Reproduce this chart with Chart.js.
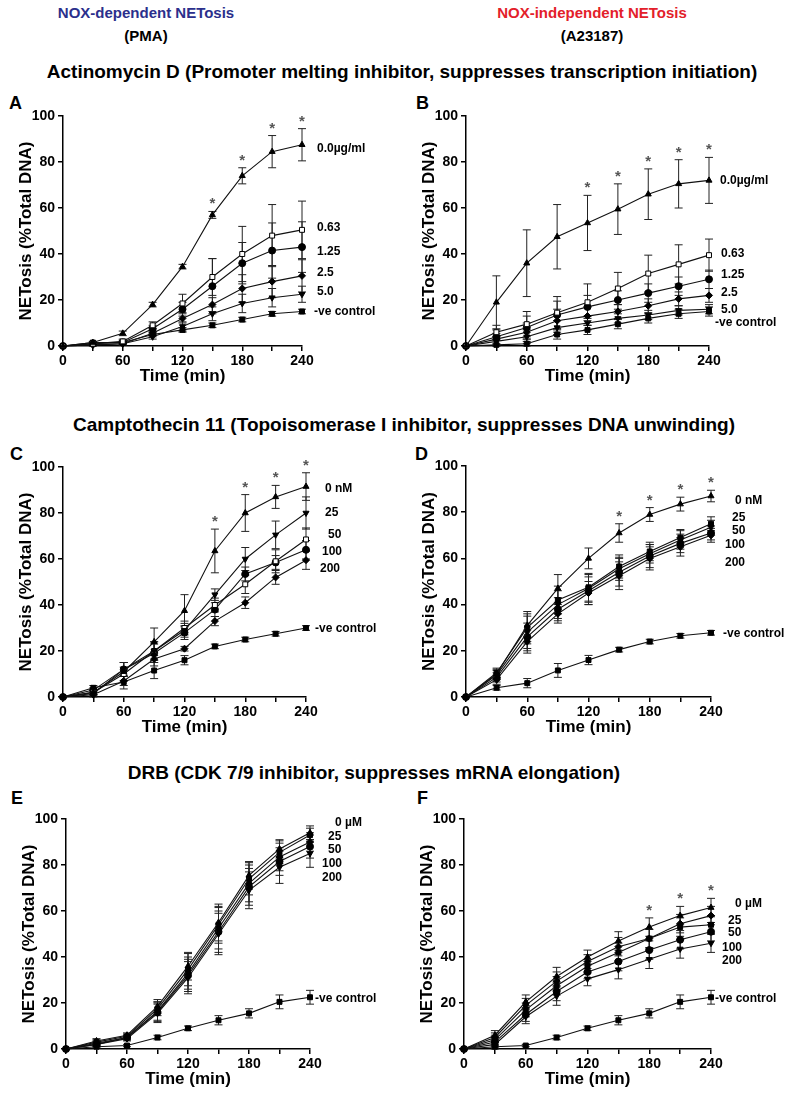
<!DOCTYPE html>
<html>
<head>
<meta charset="utf-8">
<script src="https://cdn.jsdelivr.net/npm/chart.js@4.4.0/dist/chart.umd.min.js"></script>
<style>
    body { margin: 0; background: #fff; font-family: "Liberation Sans", Arial, sans-serif; }
    #page { position: relative; width: 787px; height: 1096px; overflow: hidden; background: #fff; }
    .txt { position: absolute; font-weight: bold; white-space: nowrap; transform: translateX(-50%); }
    .letter { position: absolute; font-weight: bold; font-size: 18px; }
    canvas { position: absolute; }
</style>
</head>
<body>
<div id="page">
    <div class="txt" style="left:146px;top:4px;font-size:15px;color:#2b2f8c">NOX-dependent NETosis</div>
    <div class="txt" style="left:146px;top:27px;font-size:15px">(PMA)</div>
    <div class="txt" style="left:592px;top:4px;font-size:15px;color:#e3202a">NOX-independent NETosis</div>
    <div class="txt" style="left:592px;top:27px;font-size:15px">(A23187)</div>
    <div class="txt" style="left:402px;top:61px;font-size:19px">Actinomycin D (Promoter melting inhibitor, suppresses transcription initiation)</div>
    <div class="txt" style="left:404px;top:414px;font-size:19px">Camptothecin 11 (Topoisomerase I inhibitor, suppresses DNA unwinding)</div>
    <div class="txt" style="left:374px;top:762px;font-size:19px">DRB (CDK 7/9 inhibitor, suppresses mRNA elongation)</div>

    <div class="letter" style="left:9px;top:93px">A</div>
    <div class="letter" style="left:416px;top:93px">B</div>
    <div class="letter" style="left:10px;top:444px">C</div>
    <div class="letter" style="left:415px;top:444px">D</div>
    <div class="letter" style="left:11px;top:788px">E</div>
    <div class="letter" style="left:417px;top:788px">F</div>

    <canvas id="chart-a"></canvas>
    <canvas id="chart-b"></canvas>
    <canvas id="chart-c"></canvas>
    <canvas id="chart-d"></canvas>
    <canvas id="chart-e"></canvas>
    <canvas id="chart-f"></canvas>
</div>

<script>
// ===== DADOS =====
const tempos = [0, 30, 60, 90, 120, 150, 180, 210, 240];

// A - Actinomycin D / PMA
const aRotulos = ['0.0\u00b5g/ml', '0.63', '1.25', '2.5', '5.0', '-ve control'];
const aRotuloY = [86, 51.5, 41, 32, 23.5, 15];
const aDose0 = [0, 1.5, 5.5, 18, 34.5, 57, 74, 84.5, 87.5];
const aDose063 = [0, 1, 2, 9, 18.5, 30, 40, 48, 50.5];
const aDose125 = [0, 1, 1.5, 7.5, 16, 26, 36, 41.5, 43];
const aDose25 = [0, 0.5, 1, 5.5, 12, 18, 25, 28, 30.5];
const aDose5 = [0, 0.5, 1, 4, 8.5, 14, 18.5, 21, 22.5];
const aControle = [0, 1.5, 1.5, 5, 7, 9, 11.5, 14, 15];
const aErro0 = [0, 0.5, 1, 1, 1, 1.5, 3.5, 7, 7];
const aErro063 = [0, 0.5, 1, 1.5, 4, 8, 12, 13.5, 12.5];
const aErro125 = [0, 0.5, 1, 1.5, 3, 12, 9, 12, 11];
const aErro25 = [0, 0.5, 0.5, 1, 2, 3, 6, 7, 7];
const aErro5 = [0, 0.5, 0.5, 1, 2, 3, 4, 4, 3.5];
const aErroCtrl = [0, 0.5, 0.5, 1, 1, 1, 1, 1, 1];
const aAsteriscos = [150, 180, 210, 240];

// B - Actinomycin D / A23187
const bRotulos = ['0.0\u00b5g/ml', '0.63', '1.25', '2.5', '5.0', '-ve control'];
const bRotuloY = [72, 40, 31, 23, 16, 10];
const bDose0 = [0, 19, 36, 47.5, 53.5, 59.5, 66, 70.5, 72];
const bDose063 = [0, 6, 9.5, 14.5, 19, 25, 31.5, 35.5, 39.5];
const bDose125 = [0, 4, 8, 13.5, 17, 20, 23, 26, 29];
const bDose25 = [0, 3, 6, 11, 13, 15, 17.5, 20.5, 22];
const bDose5 = [0, 2, 4, 8, 10, 12, 13.5, 15.5, 16];
const bControle = [0, 0.5, 1, 5, 7, 9.5, 12, 14, 15];
const bErro0 = [0, 11.5, 14.5, 14, 12, 11, 11, 10.5, 10];
const bErro063 = [0, 3, 5.5, 7, 8, 7, 8, 8.5, 7];
const bErro125 = [0, 3, 5, 6, 5, 4, 4, 4, 4];
const bErro25 = [0, 2.5, 4, 5, 4, 3, 3, 3, 3];
const bErro5 = [0, 2, 3, 3, 3, 2, 2, 2, 2];
const bErroCtrl = [0, 2, 2, 2, 2, 2, 2, 2, 2];
const bAsteriscos = [120, 150, 180, 210, 240];

// C - Camptothecin 11 / PMA
const cRotulos = ['0 nM', '25', '50', '100', '200', '-ve control'];
const cRotuloY = [90.5, 80, 70.5, 63, 56, 29.5];
const cDose0 = [0, 2, 11, 24, 37.5, 63.5, 80, 87, 91.5];
const cDose25 = [0, 1.5, 12, 20, 29, 44.5, 60, 70.5, 80];
const cDose50 = [0, 2, 10, 20, 30, 40, 49, 59, 68.5];
const cDose100 = [0, 3, 12, 19, 28, 38, 53.5, 58.5, 64];
const cDose200 = [0, 1, 7, 16.5, 21, 33, 41, 52, 59.5];
const cControle = [0, 4, 6.5, 11.5, 16, 22, 25, 27.5, 30];
const cErro0 = [0, 1, 4, 6, 7, 9.5, 8, 5, 6];
const cErro25 = [0, 1, 3, 4, 3, 2.5, 5, 6, 7];
const cErro50 = [0, 1, 3, 4, 3, 3, 4, 5, 5];
const cErro100 = [0, 1, 3, 4, 3, 3, 3, 3, 4];
const cErro200 = [0, 1, 2, 3, 1, 2, 2.5, 3, 4];
const cErroCtrl = [0, 1, 3, 3.5, 2, 1, 1, 1, 1];
const cAsteriscos = [150, 180, 210, 240];

// D - Camptothecin 11 / A23187
const dRotulos = ['0 nM', '25', '50', '100', '200', '-ve control'];
const dRotuloY = [85, 77.5, 72, 66, 58, 27.5];
const dDose0 = [0, 10, 31, 47, 60, 71, 79, 83.5, 87];
const dDose25 = [0, 10.5, 30, 42, 47.5, 56.5, 63, 69, 75];
const dDose50 = [0, 9.5, 28, 40, 47, 55.5, 62, 68, 73.5];
const dDose100 = [0, 8.5, 26, 38, 46, 54, 61, 66.5, 71];
const dDose200 = [0, 7.5, 24, 36, 45, 52.5, 60, 65, 70];
const dControle = [0, 4, 6, 11.5, 16, 20.5, 24, 26.5, 27.8];
const dErro0 = [0, 2, 5, 6, 4.5, 4, 3, 3, 2.5];
const dErro25 = [0, 2, 7, 6, 6, 5, 4, 3.5, 3];
const dErro50 = [0, 2, 7, 6, 6, 5, 4, 4, 3];
const dErro100 = [0, 2, 6, 5, 6, 6, 5, 4, 3];
const dErro200 = [0, 2, 5, 4, 5, 6, 5, 4, 3];
const dErroCtrl = [0, 1, 2, 3, 2, 1, 1, 1, 1];
const dAsteriscos = [150, 180, 210, 240];

// E - DRB / PMA
const eRotulos = ['0 \u00b5M', '25', '50', '100', '200', '-ve control'];
const eRotuloY = [98.5, 92.5, 86.5, 80.5, 74.5, 22];
const eDose0 = [0, 3.5, 6, 18.5, 36, 55, 75.5, 87, 94];
const eDose25 = [0, 3, 5.5, 17.5, 34.5, 54, 74, 85.5, 93];
const eDose50 = [0, 2.5, 5, 16.5, 33, 52.5, 72, 83.5, 90];
const eDose100 = [0, 2, 5, 16, 32, 51, 70.5, 81.5, 88];
const eDose200 = [0, 2, 4.5, 15.5, 31, 50, 69, 79, 85];
const eControle = [0, 1, 1.5, 5, 9, 12.5, 15.5, 20.5, 22.5];
const eErro0 = [0, 1, 1, 3, 6, 8, 6, 4, 3];
const eErro25 = [0, 1, 1, 3, 7, 8, 7, 5, 3];
const eErro50 = [0, 1, 1, 4, 7, 9, 8, 6, 4];
const eErro100 = [0, 1, 1, 4, 7, 9, 8, 6, 5];
const eErro200 = [0, 1, 1, 4, 7, 9, 8, 7, 6];
const eErroCtrl = [0, 0.5, 0.5, 1, 1, 2, 2, 3, 3];
const eAsteriscos = [];

// F - DRB / A23187
const fRotulos = ['0 \u00b5M', '25', '50', '100', '200', '-ve control'];
const fRotuloY = [63, 56, 50.5, 44, 38.5, 22];
const fDose0 = [0, 6, 20.5, 31.5, 40, 47, 53, 58, 61.5];
const fDose25 = [0, 5, 19, 29.5, 38, 44.5, 48, 54.5, 58];
const fDose50 = [0, 4, 17, 27.5, 36, 42, 48, 53, 54];
const fDose100 = [0, 3, 15, 25, 33.5, 38, 43, 47.5, 51];
const fDose200 = [0, 2, 14, 23, 30.5, 34.5, 39, 43.5, 46];
const fControle = [0, 1, 1.5, 5, 9, 12.5, 15.5, 20.5, 22.5];
const fErro0 = [0, 2, 3, 4, 3, 4, 4, 4, 4];
const fErro25 = [0, 2, 3, 4, 3, 4, 4, 4, 4];
const fErro50 = [0, 2, 3, 4, 3, 4, 4, 4, 4];
const fErro100 = [0, 2, 3, 4, 3, 4, 4, 4, 4];
const fErro200 = [0, 2, 3, 4, 3, 4, 4, 4, 4];
const fErroCtrl = [0, 0.5, 0.5, 1, 1, 2, 2, 3, 3];
const fAsteriscos = [180, 210, 240];

// ===== ESTILOS DOS MARCADORES =====
const TRI = { pointStyle: 'triangle', pointRotation: 0, fill: '#000' };
const TRI_INV = { pointStyle: 'triangle', pointRotation: 180, fill: '#000' };
const QUAD_ABERTO = { pointStyle: 'rect', pointRotation: 0, fill: '#fff' };
const QUAD = { pointStyle: 'rect', pointRotation: 0, fill: '#000' };
const CIRC = { pointStyle: 'circle', pointRotation: 0, fill: '#000' };
const LOSANGO = { pointStyle: 'rectRot', pointRotation: 0, fill: '#000' };

const FONTE = '"Liberation Sans", Arial, sans-serif';

// Barras de erro
const pluginErros = {
    id: 'barrasErro',
    beforeDatasetsDraw(chart) {
        const ctx = chart.ctx;
        const y = chart.scales.y;
        ctx.save();
        ctx.strokeStyle = '#222';
        ctx.lineWidth = 1;
        chart.data.datasets.forEach((ds, i) => {
            const meta = chart.getDatasetMeta(i);
            meta.data.forEach((pt, j) => {
                const e = ds.erros[j];
                if (!e) return;
                const v = ds.data[j].y;
                const yTop = y.getPixelForValue(v + e);
                const yBot = y.getPixelForValue(Math.max(0, v - e));
                ctx.beginPath();
                ctx.moveTo(pt.x, yTop); ctx.lineTo(pt.x, yBot);
                ctx.moveTo(pt.x - 4, yTop); ctx.lineTo(pt.x + 4, yTop);
                ctx.moveTo(pt.x - 4, yBot); ctx.lineTo(pt.x + 4, yBot);
                ctx.stroke();
            });
        });
        ctx.restore();
    }
};

// Asteriscos e rótulos à direita
const pluginAnotacoes = {
    id: 'anotacoes',
    afterDatasetsDraw(chart, args, opts) {
        const ctx = chart.ctx;
        const xs = chart.scales.x;
        const ys = chart.scales.y;
        const area = chart.chartArea;
        ctx.save();
        // asteriscos sobre a série sem inibidor
        const ds0 = chart.data.datasets[0];
        ctx.fillStyle = '#555';
        ctx.font = 'bold 15px ' + FONTE;
        ctx.textAlign = 'center';
        ctx.textBaseline = 'alphabetic';
        (opts.asteriscos || []).forEach(t => {
            const j = tempos.indexOf(t);
            const topo = ds0.data[j].y + ds0.erros[j];
            ctx.fillText('*', xs.getPixelForValue(t), ys.getPixelForValue(topo) - 3);
        });
        // rótulos
        ctx.fillStyle = '#000';
        ctx.font = 'bold 12px ' + FONTE;
        ctx.textAlign = 'left';
        ctx.textBaseline = 'middle';
        (opts.rotulos || []).forEach((txt, i) => {
            ctx.fillText(txt, area.right + opts.dx[i], ys.getPixelForValue(opts.rotuloY[i]));
        });
        ctx.restore();
    }
};

function serie(valores, erros, marcador) {
    return {
        data: tempos.map((t, i) => ({ x: t, y: valores[i] })),
        erros,
        borderColor: '#111',
        borderWidth: 1.1,
        pointStyle: marcador.pointStyle,
        pointRotation: marcador.pointRotation,
        pointBackgroundColor: marcador.fill,
        pointBorderColor: '#000',
        pointBorderWidth: 1,
        pointRadius: 3.5,
        tension: 0,
        clip: false
    };
}

function criarPainel(id, pos, datasets, rotulos, rotuloY, dx, asteriscos) {
    const ESQ = 50, TOPO = 16, BASE = 43, DIR = 75;
    const canvas = document.getElementById(id);
    const w = pos.r - pos.l + ESQ + DIR;
    const h = pos.b - pos.t + TOPO + BASE;
    canvas.width = w;
    canvas.height = h;
    canvas.style.left = (pos.l - ESQ) + 'px';
    canvas.style.top = (pos.t - TOPO) + 'px';
    canvas.style.width = w + 'px';
    canvas.style.height = h + 'px';

    return new Chart(canvas, {
        type: 'line',
        data: { datasets },
        options: {
            responsive: false,
            animation: false,
            layout: { padding: { top: TOPO, right: DIR, left: 0, bottom: 0 } },
            plugins: {
                legend: { display: false },
                tooltip: { enabled: false },
                anotacoes: { rotulos, rotuloY, dx, asteriscos }
            },
            scales: {
                x: {
                    type: 'linear',
                    min: 0,
                    max: 240,
                    afterFit: s => { s.height = BASE; },
                    grid: { drawOnChartArea: false, drawTicks: true, tickLength: 5, color: '#000', lineWidth: 1.5 },
                    border: { display: true, color: '#000', width: 1.5 },
                    ticks: {
                        stepSize: 30,
                        autoSkip: false,
                        maxRotation: 0,
                        padding: 2,
                        color: '#000',
                        font: { family: FONTE, size: 14, weight: 'bold' },
                        callback: v => (v % 60 === 0 ? v : '')
                    },
                    title: {
                        display: true,
                        text: 'Time (min)',
                        color: '#000',
                        padding: { top: 0, bottom: 2 },
                        font: { family: FONTE, size: 17, weight: 'bold' }
                    }
                },
                y: {
                    min: 0,
                    max: 100,
                    afterFit: s => { s.width = ESQ; },
                    grid: { drawOnChartArea: false, drawTicks: true, tickLength: 5, color: '#000', lineWidth: 1.5 },
                    border: { display: true, color: '#000', width: 1.5 },
                    ticks: {
                        stepSize: 20,
                        padding: 3,
                        color: '#000',
                        font: { family: FONTE, size: 14, weight: 'bold' }
                    },
                    title: {
                        display: true,
                        text: 'NETosis (%Total DNA)',
                        color: '#000',
                        padding: { top: 3, bottom: 2 },
                        font: { family: FONTE, size: 17, weight: 'bold' }
                    }
                }
            }
        },
        plugins: [pluginErros, pluginAnotacoes]
    });
}

// ===== PAINÉIS =====
const posicoes = {
    a: { l: 63, t: 116, r: 302, b: 346 },
    b: { l: 466, t: 116, r: 709, b: 346 },
    c: { l: 63, t: 467, r: 306, b: 697 },
    d: { l: 466, t: 466, r: 711, b: 697 },
    e: { l: 66, t: 819, r: 310, b: 1049 },
    f: { l: 464, t: 819, r: 711, b: 1049 }
};

criarPainel('chart-a', posicoes.a, [
    serie(aDose0, aErro0, TRI),
    serie(aDose063, aErro063, QUAD_ABERTO),
    serie(aDose125, aErro125, CIRC),
    serie(aDose25, aErro25, LOSANGO),
    serie(aDose5, aErro5, TRI_INV),
    serie(aControle, aErroCtrl, QUAD)
], aRotulos, aRotuloY, [15, 15, 15, 15, 15, 12], aAsteriscos);

criarPainel('chart-b', posicoes.b, [
    serie(bDose0, bErro0, TRI),
    serie(bDose063, bErro063, QUAD_ABERTO),
    serie(bDose125, bErro125, CIRC),
    serie(bDose25, bErro25, LOSANGO),
    serie(bDose5, bErro5, TRI_INV),
    serie(bControle, bErroCtrl, QUAD)
], bRotulos, bRotuloY, [11, 12, 12, 12, 12, 6], bAsteriscos);

criarPainel('chart-c', posicoes.c, [
    serie(cDose0, cErro0, TRI),
    serie(cDose25, cErro25, TRI_INV),
    serie(cDose50, cErro50, QUAD_ABERTO),
    serie(cDose100, cErro100, CIRC),
    serie(cDose200, cErro200, LOSANGO),
    serie(cControle, cErroCtrl, QUAD)
], cRotulos, cRotuloY, [19, 19, 22, 16, 14, 9], cAsteriscos);

criarPainel('chart-d', posicoes.d, [
    serie(dDose0, dErro0, TRI),
    serie(dDose25, dErro25, QUAD),
    serie(dDose50, dErro50, TRI_INV),
    serie(dDose100, dErro100, CIRC),
    serie(dDose200, dErro200, LOSANGO),
    serie(dControle, dErroCtrl, QUAD)
], dRotulos, dRotuloY, [24, 21, 21, 14, 14, 12], dAsteriscos);

criarPainel('chart-e', posicoes.e, [
    serie(eDose0, eErro0, TRI),
    serie(eDose25, eErro25, QUAD),
    serie(eDose50, eErro50, LOSANGO),
    serie(eDose100, eErro100, CIRC),
    serie(eDose200, eErro200, TRI_INV),
    serie(eControle, eErroCtrl, QUAD)
], eRotulos, eRotuloY, [25, 18, 18, 12, 12, 5], eAsteriscos);

criarPainel('chart-f', posicoes.f, [
    serie(fDose0, fErro0, TRI),
    serie(fDose25, fErro25, LOSANGO),
    serie(fDose50, fErro50, QUAD),
    serie(fDose100, fErro100, CIRC),
    serie(fDose200, fErro200, TRI_INV),
    serie(fControle, fErroCtrl, QUAD)
], fRotulos, fRotuloY, [24, 17, 17, 11, 11, 4], fAsteriscos);
</script>
</body>
</html>
